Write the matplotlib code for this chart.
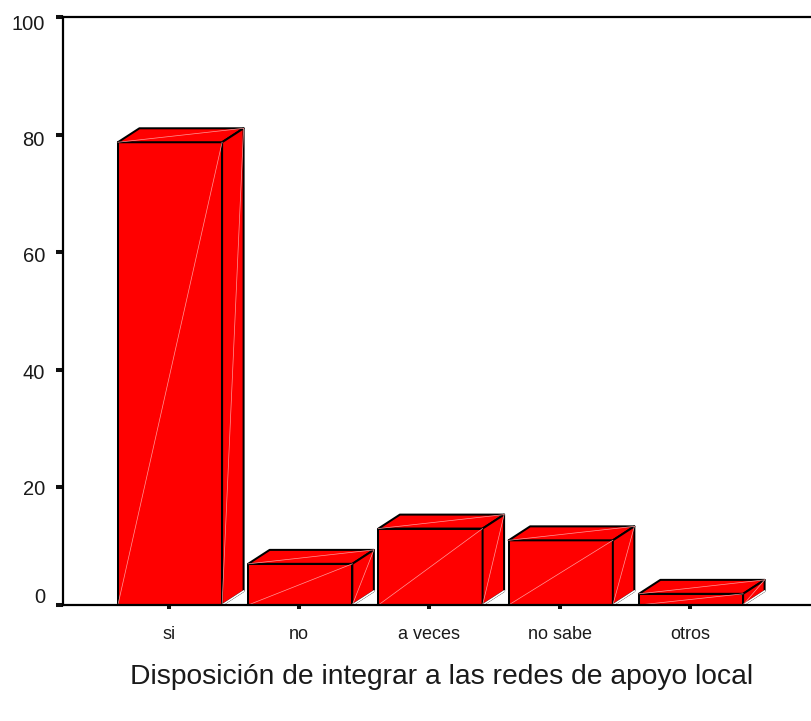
import matplotlib
matplotlib.use("Agg")
import matplotlib.pyplot as plt
from matplotlib.transforms import ScaledTranslation
import numpy as np

categories = ["si", "no", "a veces", "no sabe", "otros"]
values = [78.7, 7.0, 13.0, 11.0, 1.9]
y_ticks = [0, 20, 40, 60, 80, 100]
x_title = "Disposición de integrar a las redes de apoyo local"

W, H = 811, 721
L, R, T, B = 63, 811, 17, 605
plt.rcParams['font.family'] = ['Liberation Sans', 'DejaVu Sans']
fig = plt.figure(figsize=(W/100, H/100), dpi=100)
ax = fig.add_axes([L/W, 1-B/H, (R-L)/W, (B-T)/H])

px_x = 130.25
px_y = 5.9
ax.set_xlim((L-169)/px_x, (R-169)/px_x)
ax.set_ylim(0, (B-T)/px_y)

bw = 0.80
shift = 1.0/px_x
dx = 21.5/px_x
dy = 14/px_y
red = "#ff0000"
ek = dict(edgecolor="black", linewidth=1.45, joinstyle="round")
hl = dict(color="#ff9a9a", linewidth=0.5, zorder=4)
xs = np.arange(len(categories))

ax.bar(xs+shift, values, width=bw, color=red, zorder=3, clip_on=False, **ek)
for x, v in zip(xs+shift, values):
    l, r = x-bw/2, x+bw/2
    ax.fill([l, l+dx, r+dx, r], [v, v+dy, v+dy, v], facecolor=red, zorder=3, clip_on=False, **ek)
    ax.fill([r, r+dx, r+dx, r], [0, dy, v+dy, v], facecolor=red, zorder=3, clip_on=False, **ek)
    ax.plot([r, r+dx], [0, dy], color="white", linewidth=1.2, zorder=3.5, clip_on=False)
    ax.plot([l, r], [0, v], **hl)
    ax.plot([l, r+dx], [v, v+dy], **hl)
    ax.plot([r, r+dx], [0, v+dy], **hl)

ax.spines["right"].set_visible(False)
for s in ("left", "top", "bottom"):
    ax.spines[s].set_linewidth(1.6)
ax.spines["bottom"].set_zorder(5)

ax.set_yticks(y_ticks)
ax.set_xticks(xs)
ax.set_xticklabels(categories, fontsize=13, color="#1a1a1a")
ax.set_yticklabels([str(t) for t in y_ticks], fontsize=14.5, color="#1a1a1a")
ax.tick_params(axis="y", direction="out", length=5, width=2.9, color="#111111", pad=8)
ax.tick_params(axis="x", direction="out", length=3, width=2.9, color="#111111", pad=12)

label_dy_px = [9.5, -0.5, -1.5, -2.5, -3.5, -5.5]
for lab, d in zip(ax.get_yticklabels(), label_dy_px):
    lab.set_transform(lab.get_transform() + ScaledTranslation(0, d/100, fig.dpi_scale_trans))

ax.set_xlabel(x_title, fontsize=20.3, color="#1a1a1a")
ax.xaxis.set_label_coords(((131+752)/2-L)/(R-L), -(664-B)/(B-T))
fig.savefig("out.png", dpi=100, facecolor="white")
